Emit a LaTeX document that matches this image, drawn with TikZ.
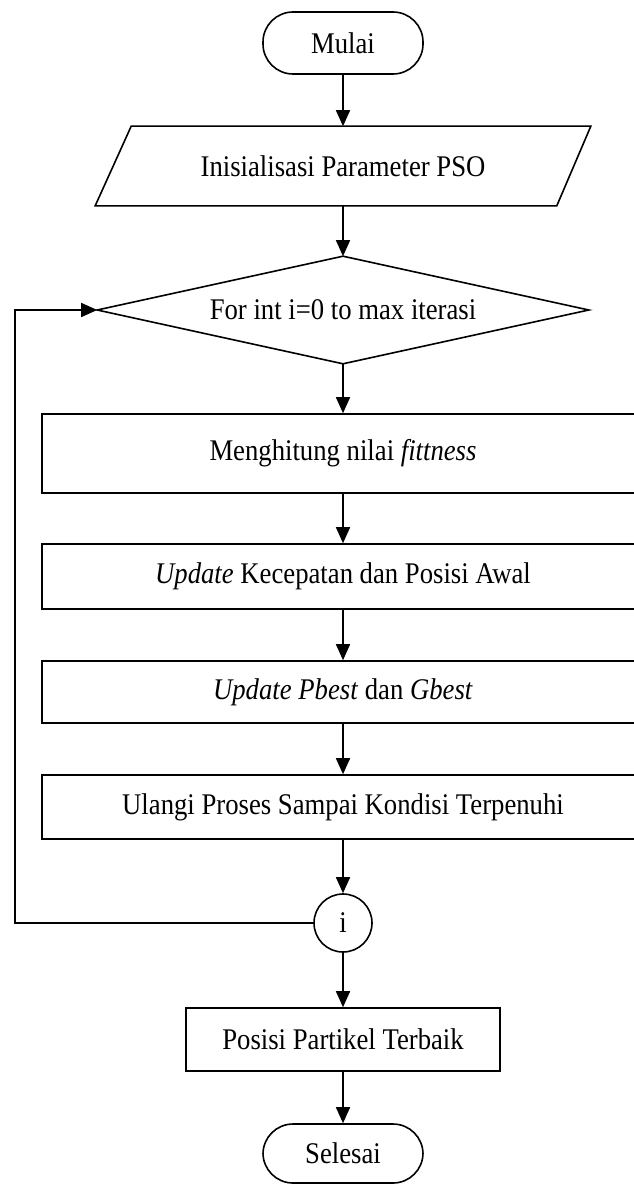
\documentclass[tikz,border=0pt]{standalone}
\usepackage{fontspec}
\setmainfont{Liberation Serif}[FakeStretch=0.89]
\usetikzlibrary{arrows.meta}
\begin{document}
\begin{tikzpicture}[x=1pt,y=-1pt,
  line width=1.6pt,
  every node/.style={font=\fontsize{30}{34}\selectfont, inner sep=0pt},
  term/.style={draw, rectangle, rounded corners=30pt, minimum width=160pt},
  procbox/.style={draw, rectangle},
  ghost/.style={draw=none, rectangle},
  conn/.style={circle, draw, minimum size=58pt},
  arr/.style={-{Triangle[length=16pt,width=14pt]}}
]
\useasboundingbox (0,0) rectangle (633,1185);

\node[term, minimum height=62pt] (start) at (343,43) {Mulai};
\node[ghost, minimum width=494pt, minimum height=78pt] (init) at (343,166) {Inisialisasi Parameter PSO};
\draw ([xshift=36pt]init.north west) -- (init.north east) -- ([xshift=-34pt]init.south east) -- (init.south west) -- cycle;

\node[ghost, minimum width=490pt, minimum height=106pt] (dec) at (343,310) {For int i=0 to max iterasi};
\draw (dec.north) -- (dec.east) -- (dec.south) -- (dec.west) -- cycle;

\node[procbox, minimum width=602pt, minimum height=79pt] (r1) at (343,453.5) {Menghitung nilai \textit{fittness}};
\node[procbox, minimum width=602pt, minimum height=65pt] (r2) at (343,576.5) {\textit{Update} Kecepatan dan Posisi Awal};
\node[procbox, minimum width=602pt, minimum height=62pt] (r3) at (343,692) {\textit{Update Pbest} dan \textit{Gbest}};
\node[procbox, minimum width=602pt, minimum height=64pt] (r4) at (343,807) {Ulangi Proses Sampai Kondisi Terpenuhi};
\node[conn] (c) at (343,923) {i};
\node[procbox, minimum width=314pt, minimum height=63pt] (best) at (343,1039.5) {Posisi Partikel Terbaik};
\node[term, minimum height=59pt] (stop) at (343,1153.5) {Selesai};

\draw[arr] (start) -- (init);
\draw[arr] (init) -- (dec.north);
\draw[arr] (dec.south) -- (r1);
\draw[arr] (r1) -- (r2);
\draw[arr] (r2) -- (r3);
\draw[arr] (r3) -- (r4);
\draw[arr] (r4) -- (c);
\draw[arr] (c) -- (best);
\draw[arr] (best) -- (stop);
\coordinate (lp) at (15,923);
\draw[arr] (c.west) -- (lp) |- (dec.west);
\end{tikzpicture}
\end{document}
